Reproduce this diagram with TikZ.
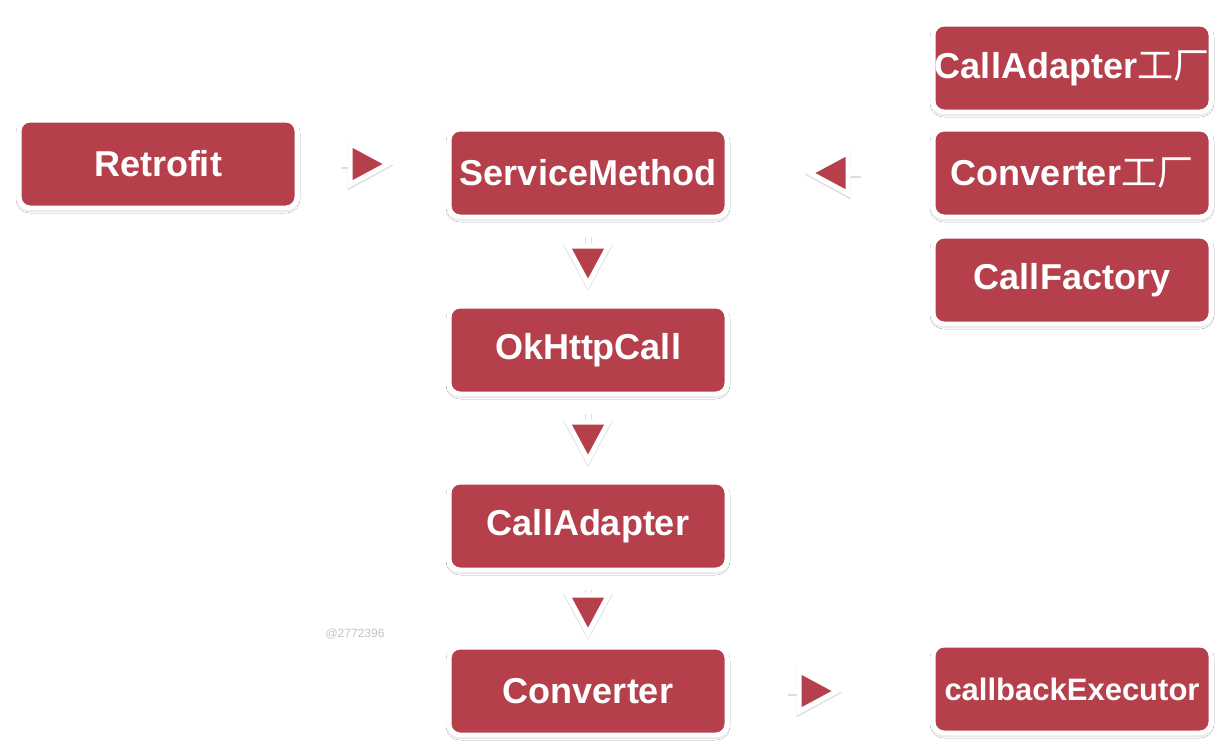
\documentclass[tikz,border=0pt]{standalone}
\usepackage{fontspec}
\setmainfont{Liberation Sans}
\newfontfamily\cjk{Noto Sans CJK SC}
\usetikzlibrary{arrows.meta,shadows.blur}
\definecolor{boxred}{HTML}{B5404B}
\definecolor{wmgray}{HTML}{C4C4C4}
\tikzset{
  rbox/.style={draw=white, line width=5pt, fill=boxred, rounded corners=11pt,
    minimum width=278pt, minimum height=88pt, inner sep=0pt,
    text=white, font=\fontsize{36}{40}\selectfont\bfseries,
    blur shadow={shadow xshift=0pt, shadow yshift=-2pt, shadow blur radius=3pt,
      shadow blur extra rounding=2.5pt, shadow opacity=35, shadow blur steps=6}},
  flow/.style={draw=white, line width=5pt,
    -{Triangle[length=46pt, width=48pt, fill=boxred, line join=miter]},
    preaction={draw=black!13, line width=7pt, transform canvas={yshift=-1.5pt},
      -{Triangle[length=46pt, width=48pt, fill=black!13, line join=miter]}}}
}
\begin{document}
\begin{tikzpicture}[x=1pt, y=-1pt]
\useasboundingbox[fill=white] (0,0) rectangle (1228,748);
\node[rbox] (retrofit) at (158,164) {Retrofit};
\node[rbox] (service) at (588,173) {ServiceMethod};
\node[rbox] (okhttp) at (588,350) {OkHttpCall};
\node[rbox] (calladapter) at (588,526) {CallAdapter};
\node[rbox] (converter) at (588,691) {Converter};
\node[rbox] (cafactory) at (1072,68) {CallAdapter{\cjk\mdseries 工厂}};
\node[rbox] (cvfactory) at (1072,173) {Converter{\cjk\mdseries 工厂}};
\node[rbox] (callfactory) at (1072,280) {CallFactory};
\node[rbox, font=\fontsize{31}{35}\selectfont\bfseries] (executor) at (1072,689) {callbackExecutor};
\node[text=wmgray, font=\fontsize{12}{14}\selectfont] (wm) at (355,634) {@2772396};
\draw[flow, shorten <=41pt, shorten >=53pt] (retrofit.east) -- (service.west |- retrofit.east);
\draw[flow, shorten <=70pt, shorten >=75pt] (cvfactory.west) -- (service.east);
\draw[flow, shorten <=16pt, shorten >=14pt] (service.south) -- (okhttp.north);
\draw[flow, shorten <=16pt, shorten >=14pt] (okhttp.south) -- (calladapter.north);
\draw[flow, shorten <=16pt, shorten >=6pt] (calladapter.south) -- (converter.north);
\draw[flow, shorten <=58pt, shorten >=88pt] (converter.east) -- (executor.west |- converter.east);
\end{tikzpicture}
\end{document}
